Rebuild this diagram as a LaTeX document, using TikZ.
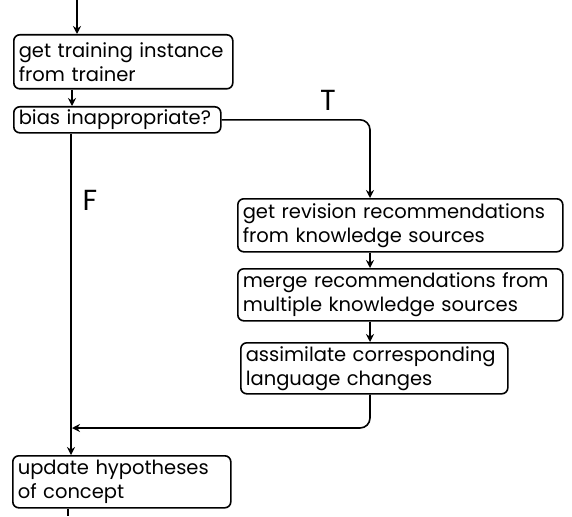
\documentclass[tikz,border=0pt]{standalone}
\usepackage{fontspec}
\setmainfont{Poppins}
\usepackage{tikz}
\usetikzlibrary{arrows.meta}

\begin{document}
\begin{tikzpicture}[x=1pt, y=1pt, >={Stealth[length=8pt, width=8pt]},
        box/.style={draw, line width=1.6pt, rounded corners=6pt, anchor=north west, align=left,
            inner xsep=5pt, inner ysep=3pt, font=\fontsize{19.5}{24}\selectfont},
        flow/.style={->, line width=1.6pt},
        mark label/.style={font=\fontsize{29}{32}\selectfont}]
        \useasboundingbox (0,0) rectangle (572,-516);

        \draw (13,-34) node [box, minimum height=54pt, text width=209pt] (train) {get training instance\\from trainer};
        \draw (13,-106) node [box, minimum height=26pt, text width=197pt] (bias) {bias inappropriate?};
        \draw (237,-198) node [box, minimum height=53pt, text width=315pt] (revise) {get revision recommendations\\from knowledge sources};
        \draw (237,-268) node [box, minimum height=52pt, text width=315pt] (merge) {merge recommendations from\\multiple knowledge sources};
        \draw (240,-342) node [box, minimum height=51pt, text width=257pt] (assim) {assimilate corresponding\\language changes};
        \draw (12,-455) node [box, minimum height=52pt, text width=208pt] (update) {update hypotheses\\of concept};

        \draw (328,-100) node [mark label] (tlabel) {T};
        \draw (90,-200) node [mark label] (flabel) {F};

        \coordinate (start) at (77,0);
        \coordinate (xa) at (72,0);
        \coordinate (xf) at (71,0);
        \coordinate (xt) at (370,0);
        \coordinate (join) at (72,-428);
        \coordinate (end) at (68,-516);

        \draw[flow] (start) -- (train.north -| start);
        \draw[flow] (train.south -| xa) -- (bias.north -| xa);
        \draw[flow, rounded corners=10pt] (bias.east) -| (revise.north -| xt);
        \draw[flow] (revise.south -| xt) -- (merge.north -| xt);
        \draw[flow] (merge.south -| xt) -- (assim.north -| xt);
        \draw[flow, rounded corners=10pt] (assim.south -| xt) |- (join);
        \draw[flow] (bias.south -| xf) -- (update.north -| xf);
        \draw[line width=1.6pt] (update.south -| end) -- (end);
    \end{tikzpicture}
\end{document}
